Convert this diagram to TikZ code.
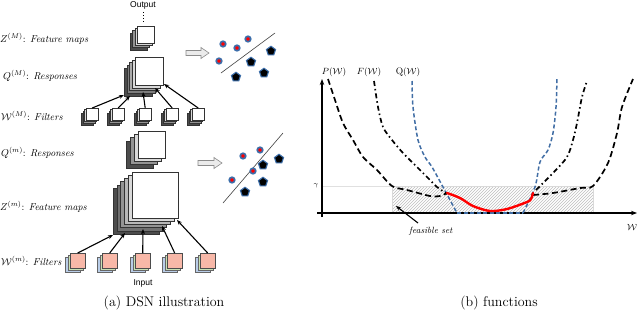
\documentclass[tikz,border=0pt]{standalone}
\usepackage{fontspec}
\newfontfamily\arialf{Liberation Sans}
\usetikzlibrary{arrows.meta,patterns,shapes.geometric}
\definecolor{pinkf}{RGB}{248,184,168}
\definecolor{greenf}{RGB}{200,225,180}
\definecolor{bluef}{RGB}{185,205,232}
\definecolor{qblue}{RGB}{65,110,165}
\definecolor{halo}{RGB}{60,110,170}
\newcommand{\mystack}[7]{%
  \foreach \i in {#4,...,1}{%
    \pgfmathtruncatemacro\pc{15+55*(\i-1)/max(#4-1,1)}%
    \draw[black!80, fill=black!\pc] ({#1+\i*#5},{#2+\i*#6}) rectangle ++(#3,#3);
  }%
  \node[draw=black!80, fill=white, minimum size=#3pt, inner sep=0, anchor=north west] (#7) at (#1,#2) {};
}
\newcommand{\colfilter}[3]{%
  \draw[black!60, fill=bluef] ({#1-4.5},{#2+4.5}) rectangle ++(15,15);
  \draw[black!60, fill=greenf] ({#1-2.25},{#2+2.25}) rectangle ++(15,15);
  \node[draw=black!70, fill=pinkf, minimum size=15pt, inner sep=0, anchor=north west] (#3) at (#1,#2) {};
}
\tikzset{
  lbl/.style={anchor=west, inner sep=0, font=\fontsize{10}{11}\selectfont},
  sanslbl/.style={inner sep=0, font=\arialf\fontsize{8.5}{10}\selectfont},
  captext/.style={inner sep=0, font=\fontsize{14}{16}\selectfont},
  conn/.style={-{Stealth[length=5pt,width=4pt]}, line width=1.1pt},
  reddot/.style={circle, fill=red, draw=halo, line width=1.7pt, minimum size=5.5pt, inner sep=0},
  pent/.style={regular polygon, regular polygon sides=5, fill=black, draw=halo, line width=1.1pt, minimum size=9.5pt, inner sep=0},
  blockarrow/.style={fill=black!8, draw=black!45, line width=0.6pt},
  pcurve/.style={line width=1.7pt, dash pattern=on 6pt off 3.5pt},
  fcurve/.style={line width=1.7pt, dash pattern=on 5pt off 3pt on 1.5pt off 3pt},
  qcurve/.style={line width=1.5pt, qblue, dash pattern=on 4pt off 2.5pt},
  axis/.style={line width=1.2pt, -{Stealth[length=6pt,width=4.5pt]}},
  flbl/.style={inner sep=0, font=\fontsize{9.5}{11}\selectfont},
}
\begin{document}
\begin{tikzpicture}[x=1pt,y=-1pt]
\useasboundingbox[fill=white] (0,0) rectangle (640,314);

% ---------- left panel ----------
\node[sanslbl] (out) at (143,5) {Output};
\coordinate (dotA) at (143,12);
\coordinate (dotB) at (143,24);
\draw[dotted, line width=1pt] (dotA) -- (dotB);

\mystack{137}{26}{17}{3}{-2.3}{2.3}{zM}
\mystack{135}{57}{28}{4}{-2.75}{2.75}{qM}

\foreach \x [count=\k] in {86,112,139,166,192}{
  \mystack{\x}{108}{12}{3}{-1.6}{1.6}{fM\k}
}
\coordinate (eM1) at (124,95);
\coordinate (eM2) at (130,96);
\coordinate (eM3) at (143,92);
\coordinate (eM4) at (155,88);
\coordinate (eM5) at (164,84);
\foreach \k in {1,...,5}{ \draw[conn] (fM\k.north) -- (eM\k); }

\mystack{138}{131}{27}{3}{-4}{3.3}{qm}
\mystack{132}{172}{46}{5}{-3.8}{3.2}{zm}

\colfilter{70}{253}{fm1}
\colfilter{102}{253}{fm2}
\colfilter{135}{253}{fm3}
\colfilter{167}{253}{fm4}
\colfilter{200}{253}{fm5}
\coordinate (em1) at (113,235);
\coordinate (em2) at (125,233);
\coordinate (em3) at (143,229);
\coordinate (em4) at (162,226);
\coordinate (em5) at (177,220);
\foreach \k in {1,...,5}{ \draw[conn] (fm\k.north) -- (em\k); }

\node[sanslbl] (inp) at (143,283) {Input};

% labels
\node[lbl] (lzM) at (0,39) {$Z^{(M)}$: \textit{Feature maps}};
\node[lbl] (lqM) at (3,76) {$Q^{(M)}$: \textit{Responses}};
\node[lbl] (lwM) at (1,116) {$\mathcal{W}^{(M)}$: \textit{Filters}};
\node[lbl] (lqm) at (1,153) {$Q^{(m)}$: \textit{Responses}};
\node[lbl] (lzm) at (0,207) {$Z^{(m)}$: \textit{Feature maps}};
\node[lbl] (lwm) at (1,261) {$\mathcal{W}^{(m)}$: \textit{Filters}};

% block arrows
\draw[blockarrow] (186,50.5) -- (201,50.5) -- (201,47.5) -- (209,53) -- (201,58.5) -- (201,55.5) -- (186,55.5) -- cycle;
\draw[blockarrow] (198,160.5) -- (214,160.5) -- (214,157.5) -- (222,163) -- (214,168.5) -- (214,165.5) -- (198,165.5) -- cycle;

% scatter top
\coordinate (sa1) at (221,73);
\coordinate (sa2) at (275,33);
\draw[black!75, line width=0.6pt] (sa1) -- (sa2);
\foreach \p [count=\k] in {(223,44),(237,48),(248,39),(219,61)}{ \node[reddot] (ra\k) at \p {}; }
\foreach \p [count=\k] in {(271,51),(251,62),(236,77),(264,73)}{ \node[pent] (pa\k) at \p {}; }

% scatter bottom
\coordinate (sb1) at (223,203);
\coordinate (sb2) at (283,133);
\draw[black!75, line width=0.6pt] (sb1) -- (sb2);
\foreach \p [count=\k] in {(243,156),(260,150),(253,171),(232,180)}{ \node[reddot] (rb\k) at \p {}; }
\foreach \p [count=\k] in {(263,165),(279,159),(263,182),(245,192)}{ \node[pent] (pb\k) at \p {}; }

\node[captext] (capa) at (164,303) {(a) DSN illustration};

% ---------- right panel ----------
\draw[pattern=north east lines, pattern color=black!25, draw=black!15] (392,186) rectangle (593,213);
\draw[black!12, line width=0.8pt] (322,186) -- (392,186);

\coordinate (yb) at (322,217);
\coordinate (yt) at (322,79);
\coordinate (xl) at (317,213);
\coordinate (xr) at (637,213);
\draw[axis] (yb) -- (yt);
\draw[axis] (xl) -- (xr);

% Q curve
\draw[qcurve] plot[smooth] coordinates {(412,81) (413,107) (418,140) (425,157) (432,167) (443,187) (457,213)};
\draw[qcurve] (457,213) -- (523,213);
\draw[qcurve] plot[smooth] coordinates {(523,213) (535,187) (540,162) (548,150) (553,133) (556,107) (557,77)};

% F curve
\draw[fcurve] plot[smooth] coordinates {(374,81) (378,107) (383,127) (392,140) (403,153) (417,167) (430,180) (437,187) (447,194)};
\draw[fcurve] plot[smooth] coordinates {(536,190) (553,173) (567,157) (573,140) (577,123) (582,97) (587,81)};

% P curve
\draw[pcurve] plot[smooth] coordinates {(328,79) (335,100) (343,123) (353,140) (363,157) (377,170) (392,186) (407,190) (430,196) (440,196) (447,193)};
\draw[pcurve] plot[smooth] coordinates {(533,195) (553,193) (580,188) (593,186) (608,163) (617,133) (622,107) (633,79)};

% red curve
\draw[red, line width=2.4pt, line cap=round] plot[smooth] coordinates {(447,193) (460,198) (473,206) (490,211) (507,209) (527,202) (531,199) (533,193)};

% labels
\node[flbl] (lP) at (334,72) {$P(\mathcal{W})$};
\node[flbl] (lF) at (369,72) {$F(\mathcal{W})$};
\node[flbl] (lQ) at (408,72) {$\mathrm{Q}(\mathcal{W})$};
\node[flbl, font=\fontsize{7.5}{8}\selectfont] (lg) at (316,186) {$\gamma$};
\node[flbl] (lW) at (632,227) {$\mathcal{W}$};
\node[flbl, anchor=west, font=\fontsize{9}{10}\selectfont\itshape] (fs) at (409,231) {feasible set};
\coordinate (fsa) at (418,223);
\coordinate (fsb) at (396,206);
\draw[conn] (fsa) -- (fsb);

\node[captext] (capb) at (499,303) {(b) functions};
\end{tikzpicture}
\end{document}
